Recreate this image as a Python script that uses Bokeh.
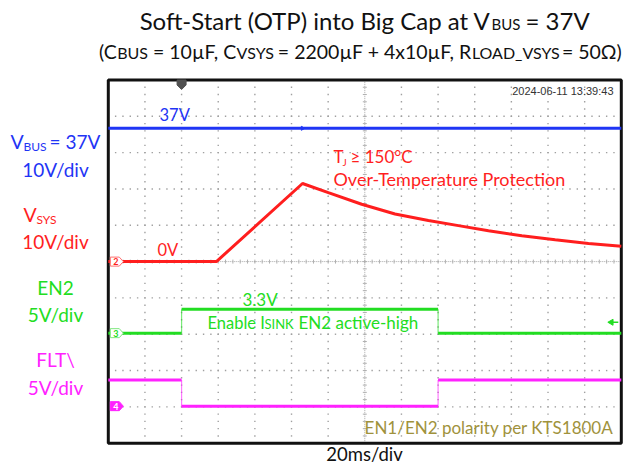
import numpy as np
from bokeh.plotting import figure
from bokeh.models import Range1d
from bokeh.core.properties import value
from bokeh.embed import file_html
from bokeh.resources import INLINE

# ---------------- data ----------------
time_per_div_ms = 20
n_hdiv = 14
n_vdiv = 10

# CH1 VBUS (10 V/div, ground at centre)
vbus_t = [0, 280]
vbus_v = [36.7, 36.7]

# CH2 VSYS (10 V/div, ground at centre)
vsys_t = [0, 59, 106.0, 120.1, 138.3, 156.5, 174.7, 191.1, 207.5, 225.7, 243.9, 262.1, 280]
vsys_v = [0, 0, 21.5, 19.0, 15.8, 13.1, 11.3, 9.9, 8.5, 7.1, 6.0, 5.0, 4.2]

# CH3 EN2 (5 V/div, ground at -1.97 div)
en2_t = [0, 40, 40, 180, 180, 280]
en2_v = [0, 0, 3.3, 3.3, 0, 0]

# CH4 FLT\ (5 V/div, ground at -3.98 div)
flt_t = [0, 40, 40, 180, 180, 280]
flt_v = [3.6, 3.6, 0, 0, 3.6, 3.6]

trigger_t = 40
trigger_level_en2 = 1.5
vbus_mark_t = 106

# channel settings: volts/div and ground offset (div)
ch_scale = {"vbus": 10, "vsys": 10, "en2": 5, "flt": 5}
ch_offset = {"vbus": 0.0, "vsys": 0.0, "en2": -1.97, "flt": -3.98}

# ---------------- layout ----------------
W, H = 624, 466
X0, PX_MS = 107.8, 513.0 / 280.0      # px of t=0, px per ms
YC, PX_DIV = 261.1, 36.32             # px of 0 div, px per div
FONT = "Lato"
BASE_K = 0.33                          # baseline correction (fraction of font size)
SUB_DX = -4                            # horizontal shift of the subtitle line

BLUE = "#1f35f5"
RED = "#ff1e1e"
GREEN = "#22dd22"
MAGENTA = "#ff22ff"
OLIVE = "#a0923c"
DARK = "#111111"


def tx(xp):
    return (xp - X0) / PX_MS


def ty(yp):
    return (YC - yp) / PX_DIV


p = figure(width=W, height=H,
           x_range=Range1d(tx(0), tx(W)),
           y_range=Range1d(ty(H), ty(0)),
           output_backend="svg", toolbar_location=None, tools="",
           x_axis_location=None, y_axis_location=None, min_border=0)
p.grid.visible = False
p.outline_line_color = None
p.background_fill_color = "white"
p.border_fill_color = "white"

T_END = time_per_div_ms * n_hdiv
V_HALF = n_vdiv / 2

# ---------------- graticule ----------------
dx, dy = [], []
for v in range(-4, 5):
    if v == 0:
        continue
    for t in np.arange(4, T_END, 4):
        dx.append(t); dy.append(v)
for k in range(1, n_hdiv):
    t = k * time_per_div_ms
    if t == T_END / 2:
        continue
    for v in np.arange(-4.8, 5, 0.2):
        dx.append(t); dy.append(v)
p.scatter(dx, dy, marker="square", size=1.4, color="#a0a0a0", line_color=None)

# centre lines (dense dotted with minor ticks)
p.line([0, T_END], [0, 0], line_color="#a8a8a8", line_width=1, line_dash="1 1")
p.line([T_END / 2, T_END / 2], [-V_HALF, V_HALF], line_color="#a8a8a8", line_width=1, line_dash="1 1")
tk = np.arange(4, T_END, 4)
p.segment(x0=tk, y0=-2.0 / PX_DIV, x1=tk, y1=2.0 / PX_DIV, line_color="#b0b0b0", line_width=1)
vk = np.arange(-4.8, 5, 0.2)
p.segment(x0=T_END / 2 - 2.0 / PX_MS, y0=vk, x1=T_END / 2 + 2.0 / PX_MS, y1=vk,
          line_color="#b0b0b0", line_width=1)

# frame
p.quad(left=0, right=T_END, bottom=-V_HALF, top=V_HALF, fill_color=None,
       line_color=DARK, line_width=3)


# ---------------- traces ----------------
def to_div(vals, ch):
    return [v / ch_scale[ch] + ch_offset[ch] for v in vals]


p.line(vbus_t, to_div(vbus_v, "vbus"), line_color=BLUE, line_width=3)
p.scatter([vbus_mark_t], to_div([vbus_v[0]], "vbus"), marker="triangle", angle=-np.pi / 2,
          size=4, color=BLUE)
p.line(vsys_t, to_div(vsys_v, "vsys"), line_color=RED, line_width=3)


def step_trace(ts, vs, ch, color):
    yv = to_div(vs, ch)
    hx0, hy0, hx1, hy1, ex0, ey0, ex1, ey1 = [], [], [], [], [], [], [], []
    for i in range(len(ts) - 1):
        if ts[i] == ts[i + 1]:
            ex0.append(ts[i]); ey0.append(yv[i]); ex1.append(ts[i + 1]); ey1.append(yv[i + 1])
        else:
            hx0.append(ts[i]); hy0.append(yv[i]); hx1.append(ts[i + 1]); hy1.append(yv[i + 1])
    p.segment(x0=ex0, y0=ey0, x1=ex1, y1=ey1, line_color=color, line_width=1.2, line_alpha=0.6)
    p.segment(x0=hx0, y0=hy0, x1=hx1, y1=hy1, line_color=color, line_width=3)


step_trace(en2_t, en2_v, "en2", GREEN)
step_trace(flt_t, flt_v, "flt", MAGENTA)


# ---------------- markers ----------------
def px_shape(t0, v0, pts):
    return [t0 + a / PX_MS for a, b in pts], [v0 - b / PX_DIV for a, b in pts]


ch_pts = [(2, -4.5), (11, -4.5), (15, 0), (11, 4.5), (2, 4.5)]
for ch, num, fill, line, tcol in [("vsys", "2", "white", "#ff7070", RED),
                                   ("en2", "3", "white", "#80e880", GREEN),
                                   ("flt", "4", MAGENTA, MAGENTA, "white")]:
    xs, ys = px_shape(0, ch_offset[ch], ch_pts)
    p.patch(xs, ys, fill_color=fill, line_color=line, line_width=1)
    p.text(x=[7.5 / PX_MS], y=[ch_offset[ch]], text=[num], text_color=tcol,
           text_font=value(FONT), text_font_size="9px", text_font_style="bold",
           text_align="center", text_baseline="middle")

# trigger position marker (top)
xs, ys = px_shape(trigger_t, V_HALF, [(-4.5, 0), (4.5, 0), (4.5, 5), (0, 9.5), (-4.5, 5)])
p.patch(xs, ys, fill_color="#505050", line_color="#505050")

# trigger level arrow (right)
lvl = to_div([trigger_level_en2], "en2")[0]
p.segment(x0=[T_END - 11 / PX_MS], y0=[lvl], x1=[T_END - 3 / PX_MS], y1=[lvl],
          line_color=GREEN, line_width=1.5)
p.scatter([T_END - 10 / PX_MS], [lvl], marker="triangle", angle=np.pi / 2, size=6, color=GREEN)


# ---------------- texts ----------------
def label(xp, yp, s, color, size, align="left", font=FONT, style="normal"):
    p.text(x=[tx(xp)], y=[ty(yp - BASE_K * size)], text=[s], text_color=color,
           text_font=value(font), text_font_size=f"{size}px", text_align=align,
           text_baseline="alphabetic", text_font_style=style)


# title
label(490, 28, "Soft-Start (OTP) into Big Cap at V", DARK, 24, align="right")
label(491, 28, "BUS", DARK, 15)
label(525, 28, "= 37V", DARK, 24)
# subtitle
label(120.4 + SUB_DX, 57, "(C", DARK, 19.5, align="right")
label(120.7 + SUB_DX, 57, "BUS", DARK, 16)
label(239.8 + SUB_DX, 57, "= 10µF, C", DARK, 19.5, align="right")
label(240.1 + SUB_DX, 57, "VSYS", DARK, 16)
label(475.1 + SUB_DX, 57, "= 2200µF + 4x10µF, R", DARK, 19.5, align="right")
label(475.4 + SUB_DX, 57, "LOAD_VSYS", DARK, 16)
label(565.4 + SUB_DX, 57, "= 50Ω)", DARK, 19.5)

# left channel labels
label(10, 147, "V", BLUE, 19.5)
label(23, 149.5, "BUS", BLUE, 12)
label(49, 147, "= 37V", BLUE, 19)
label(55, 175, "10V/div", BLUE, 19, align="center")
label(23, 220, "V", RED, 19.5)
label(36, 222.5, "SYS", RED, 12)
label(55, 247, "10V/div", RED, 19, align="center")
label(55, 293, "EN2", GREEN, 19, align="center")
label(55, 320, "5V/div", GREEN, 19, align="center")
label(55, 365, "FLT\\", MAGENTA, 19, align="center")
label(55, 393, "5V/div", MAGENTA, 19, align="center")

# annotations in the screen
label(159, 120, "37V", BLUE, 16.5)
label(157, 255, "0V", RED, 16.5)
label(333, 162, "T", RED, 17)
label(342, 165, "J", RED, 10)
label(350, 162, "≥ 150°C", RED, 17)
label(333, 184, "Over-Temperature Protection", RED, 18)
label(242, 305, "3.3V", GREEN, 17)
label(207, 328, "Enable I", GREEN, 16.5)
label(264, 328, "SINK", GREEN, 13)
label(298, 328, "EN2 active-high", GREEN, 17)
label(613, 433, "EN1/EN2 polarity per KTS1800A", OLIVE, 17, align="right")
label(613, 94, "2024-06-11 13:39:43", "#333333", 11, align="right", font="Liberation Sans")
label(364, 460, "20ms/div", DARK, 18.5, align="center")

open("out.html", "w").write(file_html(p, INLINE))
